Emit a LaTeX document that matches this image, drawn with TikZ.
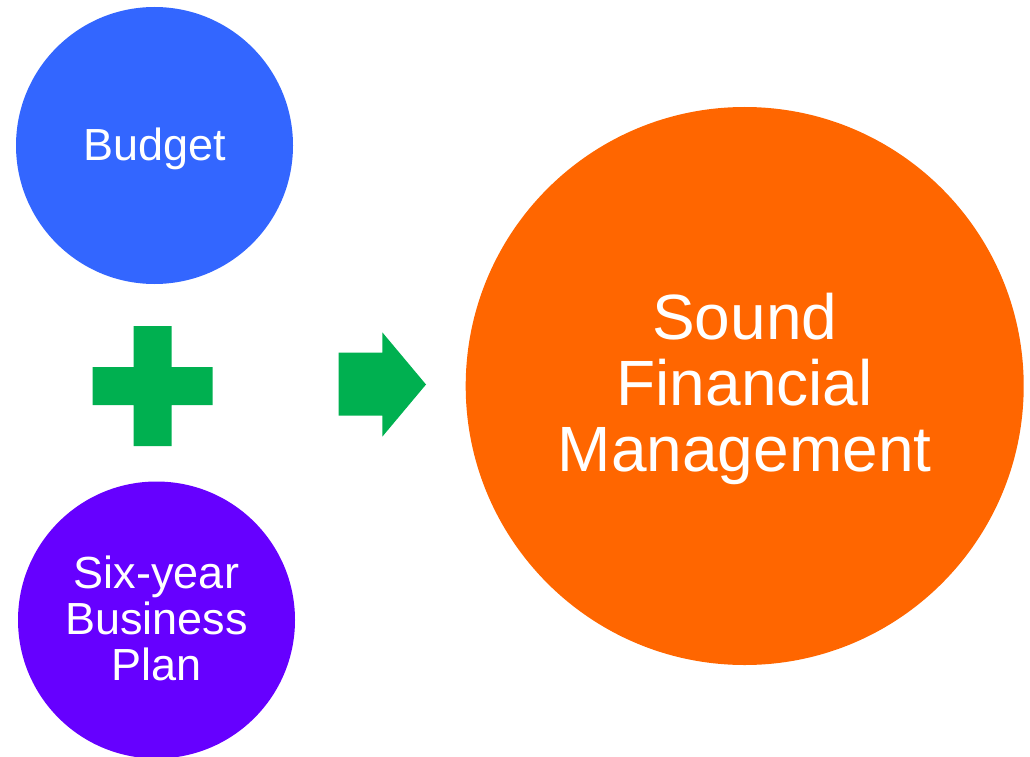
\documentclass[tikz,border=0pt]{standalone}
\usepackage{fontspec}
\setmainfont{Liberation Sans}
\usetikzlibrary{calc}
\definecolor{cblue}{HTML}{3366FF}
\definecolor{cpurple}{HTML}{6600FF}
\definecolor{cgreen}{HTML}{00B050}
\definecolor{corange}{HTML}{FF6600}
\tikzset{
  bubble/.style={circle, inner sep=0pt, draw=none},
  smallbubble/.style={bubble, minimum size=277pt},
  bigbubble/.style={bubble, minimum size=558pt},
  smalltext/.style={text=white, align=center, inner sep=0pt, font=\fontsize{45}{46}\selectfont},
  bigtext/.style={text=white, align=center, inner sep=0pt, font=\fontsize{64}{66}\selectfont},
  greenshape/.style={fill=cgreen, draw=none}
}
\begin{document}
\begin{tikzpicture}[x=1pt,y=-1pt]
\useasboundingbox (0,0) rectangle (1030,757);
\clip (0,0) rectangle (1030,757);
\node[smallbubble, fill=cblue] (budget) at (154.5,145.5) {};
\node[smallbubble, fill=cpurple] (plan) at (156.5,620) {};
\node[bigbubble, fill=corange] (sfm) at (744.7,386) {};
\node[smalltext] (budgettext) at ($(budget.center)+(0,3)$) {Budget};
\node[smalltext] (plantext) at ($(plan.center)+(0,-2)$) {Six-year\\Business\\Plan};
\node[bigtext] (sfmtext) at ($(sfm.center)+(0,3)$) {Sound\\Financial\\Management};
% plus sign
\coordinate (plusc) at (152.5,386);
\fill[greenshape] ($(plusc)+(-19,-60)$) -- ($(plusc)+(19,-60)$) -- ($(plusc)+(19,-19)$)
  -- ($(plusc)+(60,-19)$) -- ($(plusc)+(60,19)$) -- ($(plusc)+(19,19)$)
  -- ($(plusc)+(19,60)$) -- ($(plusc)+(-19,60)$) -- ($(plusc)+(-19,19)$)
  -- ($(plusc)+(-60,19)$) -- ($(plusc)+(-60,-19)$) -- ($(plusc)+(-19,-19)$) -- cycle;
% arrow
\fill[greenshape] (338.7,352.7) -- (382.3,352.7) -- (382.3,332.3) -- (426,384.5)
  -- (382.3,436.7) -- (382.3,415.7) -- (338.7,415.7) -- cycle;
\end{tikzpicture}
\end{document}
